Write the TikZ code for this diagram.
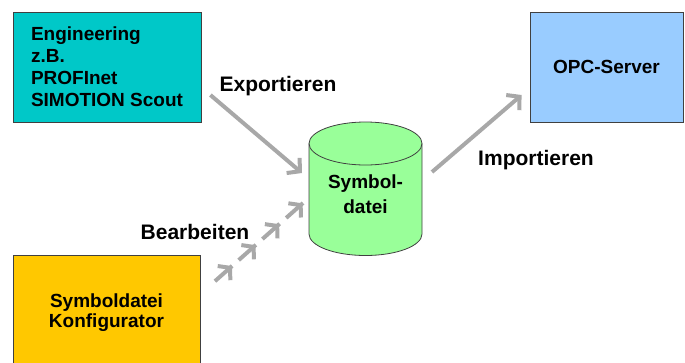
\documentclass[tikz,border=0pt]{standalone}
\usepackage{fontspec}
\setmainfont{Liberation Sans}
\usepackage{tikz}
\usetikzlibrary{arrows.meta, decorations.markings}

\definecolor{engcyan}{HTML}{00C8C8}
\definecolor{opcblue}{HTML}{99CCFF}
\definecolor{konfgelb}{HTML}{FFC800}
\definecolor{symgruen}{HTML}{99FF99}
\definecolor{pfeilgrau}{HTML}{A8A8A8}

\tikzset{
    kasten/.style={draw=black!75, line width=0.8pt, font=\bfseries\fontsize{19}{22}\selectfont},
    beschrift/.style={font=\bfseries\fontsize{21}{25}\selectfont},
    fluss/.style={draw=pfeilgrau, line width=4pt, -{Straight Barb[length=9pt, width=20pt]}},
    kette/.style={draw=pfeilgrau, line width=4pt, dash pattern=on 23pt off 8.75pt, dash phase=23pt,
        postaction={decorate},
        decoration={markings,
            mark=at position 0.25 with {\arrow{Straight Barb[length=8pt, width=19pt]}},
            mark=at position 0.5 with {\arrow{Straight Barb[length=8pt, width=19pt]}},
            mark=at position 0.75 with {\arrow{Straight Barb[length=8pt, width=19pt]}},
            mark=at position 0.999 with {\arrow{Straight Barb[length=8pt, width=19pt]}}}}
}

\begin{document}
\begin{tikzpicture}[x=1pt, y=-1pt]
    \useasboundingbox (0,0) rectangle (685,362);

    \node[kasten, fill=engcyan, minimum width=188pt, minimum height=110pt, align=left] (eng) at (107,67)
        {Engineering\\z.B.\\PROFInet\\SIMOTION Scout};
    \node[kasten, fill=opcblue, minimum width=153pt, minimum height=110pt] (opc) at (606.5,67) {OPC-Server};
    \node[kasten, fill=konfgelb, minimum width=187pt, minimum height=116pt, align=center] (konf) at (106.5,313)
        {Symboldatei\\[-2pt]Konfigurator};

    % Zylinder fuer die Symboldatei
    \draw[draw=black!75, line width=0.8pt, fill=symgruen] (309,143.5) -- (309,234)
        arc[start angle=180, end angle=0, x radius=56.5, y radius=21.5] -- (422,143.5)
        arc[start angle=0, end angle=-180, x radius=56.5, y radius=21.5] -- cycle;
    \draw[draw=black!75, line width=0.8pt] (309,143.5) arc[start angle=180, end angle=0, x radius=56.5, y radius=21.5];
    \node[font=\bfseries\fontsize{19}{25}\selectfont, align=center] (sym) at (365.5,194.5) {Symbol-\\datei};

    \node[beschrift] (exp) at (278,86) {Exportieren};
    \node[beschrift] (imp) at (536,160) {Importieren};
    \node[beschrift] (bea) at (195,232) {Bearbeiten};

    \draw[fluss] ([xshift=9pt, yshift=-28pt]eng.east) -- ([xshift=-63.5pt, yshift=21.5pt]sym.center);
    \draw[fluss] ([xshift=66.5pt, yshift=22.5pt]sym.center) -- ([xshift=-8pt, yshift=-28pt]opc.west);
    \draw[kette] ([xshift=8pt, yshift=26pt]konf.east) -- ([xshift=-62.5pt, yshift=-8.5pt]sym.center);
\end{tikzpicture}
\end{document}
